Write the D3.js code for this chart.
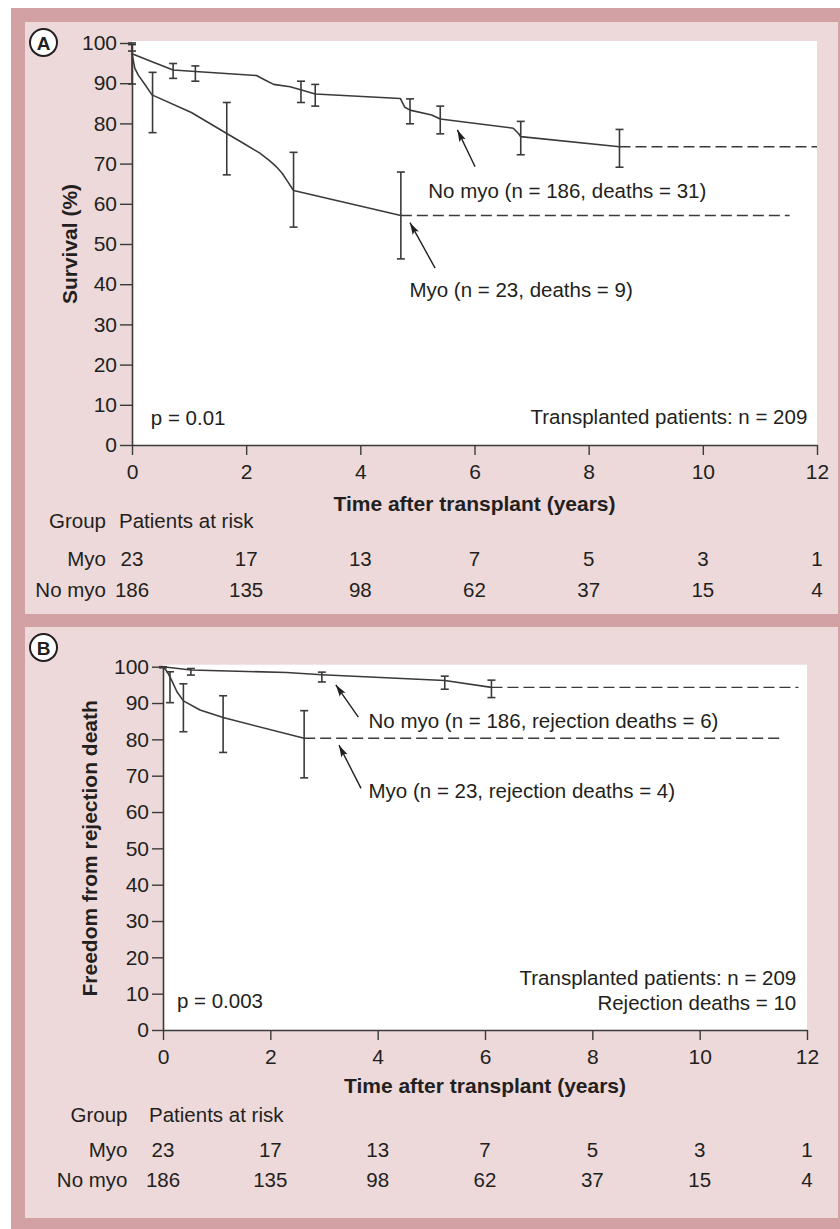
<!DOCTYPE html>
<html>
<head>
<meta charset="utf-8">
<script src="https://cdn.jsdelivr.net/npm/d3@7"></script>
<style>
  body { margin: 0; background: #fff; }
  text { font-family: "Liberation Sans", Arial, Helvetica, sans-serif; fill: #231f20; }
</style>
</head>
<body>
<div id="chart"></div>
<script>
// ---- data ----
const xTickValues = [0, 2, 4, 6, 8, 10, 12];
const yTickValues = [0, 10, 20, 30, 40, 50, 60, 70, 80, 90, 100];

// patients at risk, one value per 2-year tick
const riskYears = [0, 2, 4, 6, 8, 10, 12];
const riskMyo = [23, 17, 13, 7, 5, 3, 1];
const riskNoMyo = [186, 135, 98, 62, 37, 15, 4];

// Panel A: survival (%) — [years, value]
const survNoMyoA = [[0, 97.3], [0.34, 95.4], [0.72, 93.3], [1.11, 92.9], [2.18, 91.9], [2.33, 90.8],
  [2.48, 89.7], [2.77, 89.1], [2.97, 88.3], [3.21, 87.3], [4.70, 86.2], [4.78, 84.0], [4.87, 83.3],
  [5.25, 82.1], [5.40, 81.1], [6.68, 78.8], [6.77, 77.5], [6.81, 76.7], [8.54, 74.2]];
const survMyoA = [[0, 97.3], [0.05, 93.7], [0.11, 92.0], [0.23, 89.6], [0.35, 87.1], [1.04, 82.7],
  [1.66, 77.5], [1.98, 74.8], [2.24, 72.6], [2.42, 70.6], [2.53, 69.2], [2.63, 67.6], [2.71, 65.9], [2.83, 63.3], [4.71, 57.1]];
// error bars — [years, low, high]
const ciNoMyoA = [[0, 98.0, 99.6], [0.72, 91.2, 94.9], [1.11, 90.5, 94.3], [2.96, 85.2, 90.5], [3.21, 84.3, 89.7],
  [4.87, 79.9, 86.1], [5.40, 77.4, 84.3], [6.81, 72.2, 80.5], [8.54, 69.1, 78.5]];
const ciMyoA = [[0, 89.8, 100], [0.36, 77.7, 92.7], [1.66, 67.2, 85.2], [2.83, 54.2, 72.8], [4.71, 46.3, 67.9]];
// dashed plateau — [from, to, value]
const tailNoMyoA = [8.54, 12, 74.2];
const tailMyoA = [4.71, 11.52, 57.1];

// Panel B: freedom from rejection death (%)
const survNoMyoB = [[0, 100], [0.52, 99.1], [2.30, 98.4], [2.96, 97.8], [5.25, 96.2], [6.12, 94.3]];
const survMyoB = [[0, 100], [0.08, 98.6], [0.16, 96.3], [0.26, 93.1], [0.38, 90.6], [0.69, 88.1], [1.12, 86.0], [2.63, 80.3]];
const ciNoMyoB = [[0, 99.7, 100], [0.52, 97.7, 99.5], [2.96, 95.8, 98.5], [5.25, 93.8, 97.4], [6.12, 91.5, 96.3]];
const ciMyoB = [[0.13, 90.1, 98.6], [0.38, 82.1, 95.3], [1.12, 76.4, 92.0], [2.63, 69.4, 87.9]];
const tailNoMyoB = [6.12, 11.84, 94.3];
const tailMyoB = [2.63, 11.5, 80.3];

// annotations in data units: text start [x, y], arrow [tailX, tailY, tipX, tipY]
const notesA = [
  { text: "No myo (n = 186, deaths = 31)", at: [5.19, 61.5], arrow: [6.01, 69.2, 5.70, 78.4] },
  { text: "Myo (n = 23, deaths = 9)", at: [4.86, 36.7], arrow: [5.31, 44.0, 4.87, 55.3] }
];
const notesB = [
  { text: "No myo (n = 186, rejection deaths = 6)", at: [3.83, 83.0], arrow: [3.64, 86.1, 3.22, 95.0] },
  { text: "Myo (n = 23, rejection deaths = 4)", at: [3.83, 63.8], arrow: [3.69, 66.5, 3.28, 78.4] }
];

const ink = "#3a3a3a";
const W = 840, H = 1229;

const svg = d3.select("#chart").append("svg").attr("width", W).attr("height", H);

svg.append("defs").append("marker")
  .attr("id", "arrow")
  .attr("viewBox", "0 0 12 8")
  .attr("refX", 12).attr("refY", 4)
  .attr("markerWidth", 12).attr("markerHeight", 8)
  .attr("markerUnits", "userSpaceOnUse")
  .attr("orient", "auto")
  .append("path").attr("d", "M0,0.5L12,4L0,7.5L2.5,4z").attr("fill", "#231f20");

// outer frame
svg.append("rect").attr("x", 11).attr("y", 8).attr("width", W - 11).attr("height", H - 8).attr("fill", "#d2a1a4");

function drawPanel(p) {
  const g = svg.append("g");
  g.append("rect").attr("x", 25).attr("y", p.boxTop).attr("width", 813).attr("height", p.boxHeight).attr("fill", "#edd9d9");

  const x = d3.scaleLinear().domain([0, 12]).range([p.left, p.right]);
  const y = d3.scaleLinear().domain([0, 100]).range([p.bottom, p.top]);

  g.append("rect")
    .attr("x", x(0)).attr("y", y(100) - 2)
    .attr("width", x(12) - x(0)).attr("height", y(0) - y(100) + 2)
    .attr("fill", "#fff");

  // axes
  const xAxis = g.append("g")
    .attr("transform", `translate(0,${y(0)})`)
    .call(d3.axisBottom(x).tickValues(xTickValues).tickSize(10).tickPadding(9).tickSizeOuter(0));
  const yAxis = g.append("g")
    .attr("transform", `translate(${x(0)},0)`)
    .call(d3.axisLeft(y).tickValues(yTickValues).tickSize(p.yTick).tickPadding(3).tickSizeOuter(0));
  [xAxis, yAxis].forEach(a => {
    a.select(".domain").attr("stroke", ink).attr("stroke-width", 1.6);
    a.selectAll(".tick line").attr("stroke", ink).attr("stroke-width", 1.4);
    a.selectAll(".tick text").attr("font-size", 21).attr("fill", "#231f20")
      .style("font-family", '"Liberation Sans", Arial, sans-serif');
  });

  // survival curves
  const line = d3.line().x(d => x(d[0])).y(d => y(d[1]));
  [p.noMyo, p.myo].forEach(s => {
    g.append("path").datum(s).attr("d", line)
      .attr("fill", "none").attr("stroke", ink).attr("stroke-width", 1.6)
      .attr("stroke-linejoin", "round");
  });

  // dashed plateaus
  [p.tailNoMyo, p.tailMyo].forEach(t => {
    g.append("line")
      .attr("x1", x(t[0])).attr("x2", x(t[1]))
      .attr("y1", y(t[2])).attr("y2", y(t[2]))
      .attr("stroke", ink).attr("stroke-width", 1.4).attr("stroke-dasharray", "11,5");
  });

  // error bars
  const ci = p.ciNoMyo.concat(p.ciMyo);
  const eb = g.append("g").attr("stroke", ink).attr("stroke-width", 1.6);
  eb.selectAll("line.v").data(ci).join("line")
    .attr("x1", d => x(d[0])).attr("x2", d => x(d[0]))
    .attr("y1", d => y(d[1])).attr("y2", d => y(d[2]));
  eb.selectAll("line.lo").data(ci).join("line")
    .attr("x1", d => x(d[0]) - 4).attr("x2", d => x(d[0]) + 4)
    .attr("y1", d => y(d[1])).attr("y2", d => y(d[1]));
  eb.selectAll("line.hi").data(ci).join("line")
    .attr("x1", d => x(d[0]) - 4).attr("x2", d => x(d[0]) + 4)
    .attr("y1", d => y(d[2])).attr("y2", d => y(d[2]));

  // annotations with arrows
  p.notes.forEach(n => {
    g.append("line")
      .attr("x1", x(n.arrow[0])).attr("y1", y(n.arrow[1]))
      .attr("x2", x(n.arrow[2])).attr("y2", y(n.arrow[3]))
      .attr("stroke", "#231f20").attr("stroke-width", 1.4)
      .attr("marker-end", "url(#arrow)");
    g.append("text").attr("x", x(n.at[0])).attr("y", y(n.at[1]))
      .attr("font-size", 20.5).text(n.text);
  });

  g.append("text").attr("x", x(p.pAt[0])).attr("y", y(p.pAt[1]))
    .attr("font-size", 20.5).text(p.pText);
  p.infoLines.forEach((t, i) => {
    g.append("text").attr("x", x(p.infoAt[0])).attr("y", y(p.infoAt[1]) + i * 25)
      .attr("text-anchor", "end").attr("font-size", 20.5).text(t);
  });

  // axis titles
  g.append("text")
    .attr("x", (x(0) + x(12)) / 2).attr("y", y(0) + p.xTitleDy)
    .attr("text-anchor", "middle").attr("font-size", 21).attr("font-weight", "bold")
    .text("Time after transplant (years)");
  g.append("text")
    .attr("transform", `translate(${p.yTitleX},${(y(0) + y(100)) / 2}) rotate(-90)`)
    .attr("text-anchor", "middle").attr("font-size", 21).attr("font-weight", "bold")
    .text(p.yTitle);

  // patients at risk table
  const t0 = y(0);
  g.append("text").attr("x", p.groupX).attr("y", t0 + p.rowDy[0])
    .attr("text-anchor", "end").attr("font-size", 20.5).text("Group");
  g.append("text").attr("x", p.riskX).attr("y", t0 + p.rowDy[0])
    .attr("font-size", 20.5).text("Patients at risk");
  [["Myo", riskMyo, p.rowDy[1]], ["No myo", riskNoMyo, p.rowDy[2]]].forEach(([lab, vals, dy]) => {
    g.append("text").attr("x", p.groupX).attr("y", t0 + dy)
      .attr("text-anchor", "end").attr("font-size", 20.5).text(lab);
    g.selectAll(null).data(vals).join("text")
      .attr("x", (d, i) => x(riskYears[i])).attr("y", t0 + dy)
      .attr("text-anchor", "middle").attr("font-size", 20.5).text(d => d);
  });

  // panel letter
  g.append("circle").attr("cx", 43.5).attr("cy", p.boxTop + 20.5).attr("r", 13.5)
    .attr("fill", "#fff").attr("stroke", "#231f20").attr("stroke-width", 2);
  g.append("text").attr("x", 43.5).attr("y", p.boxTop + 27.5)
    .attr("text-anchor", "middle").attr("font-size", 19).attr("font-weight", "bold").text(p.letter);
}

drawPanel({
  letter: "A", boxTop: 22, boxHeight: 592,
  left: 132, right: 817, top: 43, bottom: 445, yTick: 12,
  noMyo: survNoMyoA, myo: survMyoA, ciNoMyo: ciNoMyoA, ciMyo: ciMyoA,
  tailNoMyo: tailNoMyoA, tailMyo: tailMyoA, notes: notesA,
  pText: "p = 0.01", pAt: [0.33, 5.0],
  infoLines: ["Transplanted patients: n = 209"], infoAt: [11.83, 5.15],
  yTitle: "Survival (%)", yTitleX: 77, xTitleDy: 66,
  groupX: 106, riskX: 119, rowDy: [83, 121, 152]
});

drawPanel({
  letter: "B", boxTop: 627, boxHeight: 591,
  left: 163, right: 807, top: 666.7, bottom: 1030, yTick: 11,
  noMyo: survNoMyoB, myo: survMyoB, ciNoMyo: ciNoMyoB, ciMyo: ciMyoB,
  tailNoMyo: tailNoMyoB, tailMyo: tailMyoB, notes: notesB,
  pText: "p = 0.003", pAt: [0.26, 6.0],
  infoLines: ["Transplanted patients: n = 209", "Rejection deaths = 10"], infoAt: [11.8, 12.4],
  yTitle: "Freedom from rejection death", yTitleX: 97, xTitleDy: 63,
  groupX: 127.5, riskX: 149, rowDy: [92, 127, 157]
});
</script>
</body>
</html>
